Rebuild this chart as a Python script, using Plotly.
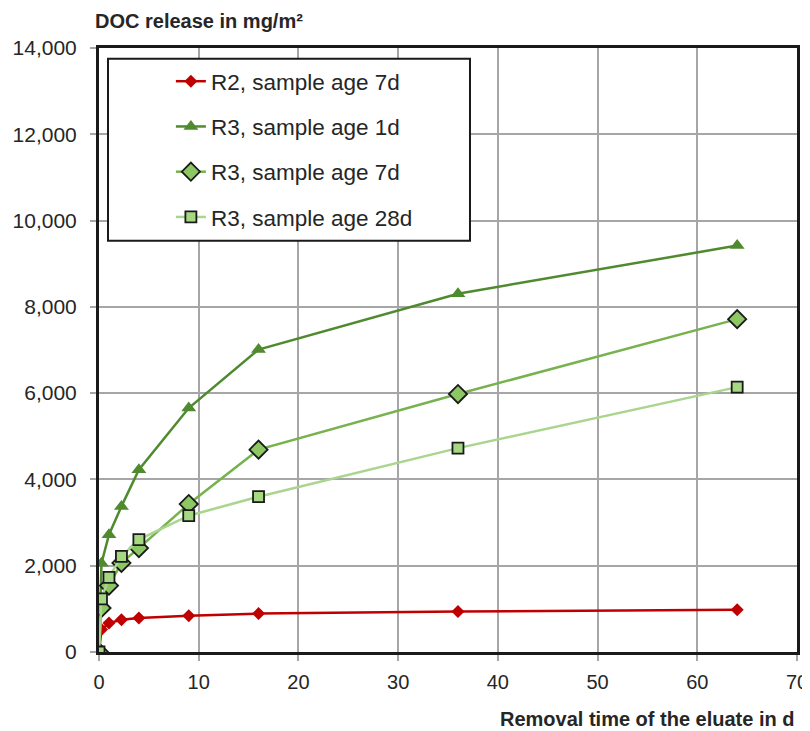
import plotly.graph_objects as go

# Data
time_d = [0, 0.25, 1, 2.25, 4, 9, 16, 36, 64]
r2_age7 = [0, 520, 672, 749, 788, 841, 890, 940, 980]
r3_age1 = [0, 2060, 2720, 3375, 4225, 5655, 7010, 8305, 9420]
r3_age7 = [0, 1020, 1540, 2065, 2410, 3430, 4690, 5980, 7715]
r3_age28 = [0, 1230, 1730, 2215, 2605, 3160, 3600, 4725, 6140]

names = ["R2, sample age 7d", "R3, sample age 1d", "R3, sample age 7d", "R3, sample age 28d"]
y_ticks = [0, 2000, 4000, 6000, 8000, 10000, 12000, 14000]
x_ticks = [0, 10, 20, 30, 40, 50, 60, 70]

FONT = "Liberation Sans, Arial, sans-serif"

fig = go.Figure()
fig.add_trace(go.Scatter(
    x=time_d, y=r2_age7, name=names[0], mode="lines+markers", legendgroup="a",
    line=dict(color="#C00000", width=2.5),
    marker=dict(symbol="diamond", size=10, color="#C00000")))
fig.add_trace(go.Scatter(
    x=time_d, y=r3_age1, name=names[1], mode="lines+markers", legendgroup="b",
    line=dict(color="#4F8A2F", width=2.5),
    marker=dict(symbol="triangle-up", size=13, color="#4F8A2F")))
fig.add_trace(go.Scatter(
    x=time_d, y=r3_age7, name=names[2], mode="lines+markers", legendgroup="c",
    line=dict(color="#77B24F", width=2.5),
    marker=dict(symbol="diamond", size=14, color="#8CC764",
                line=dict(color="#1a1a1a", width=1.8))))
fig.add_trace(go.Scatter(
    x=time_d, y=r3_age28, name=names[3], mode="lines+markers", legendgroup="d",
    line=dict(color="#A9D58E", width=2.5),
    marker=dict(symbol="square", size=11, color="#A6D884",
                line=dict(color="#1a1a1a", width=1.8))))

fig.update_layout(
    width=802, height=723,
    margin=dict(l=91, r=13, t=40, b=79, autoexpand=False),
    paper_bgcolor="white", plot_bgcolor="white",
    font=dict(family=FONT, size=20, color="#262626"),
    showlegend=True,
    legend=dict(
        x=0.103, y=0.98, xanchor="left", yanchor="top",
        bgcolor="rgba(0,0,0,0)", borderwidth=0,
        font=dict(family=FONT, size=22.5, color="#262626"),
        tracegroupgap=13,
    ),
    shapes=[dict(
        type="rect", xref="paper", yref="paper",
        x0=0.0129, x1=0.5315, y0=0.681, y1=0.982,
        fillcolor="white", line=dict(color="#1a1a1a", width=2), layer="above")],
    annotations=[
        dict(text="<b>DOC release in mg/m²</b>", xref="paper", yref="paper",
             x=0, y=1.0, xanchor="left", yanchor="bottom", yshift=14, xshift=-6,
             showarrow=False, font=dict(family=FONT, size=20, color="#262626")),
        dict(text="<b>Removal time of the eluate in d</b>", xref="paper", yref="paper",
             x=1.0, y=0, xanchor="right", yanchor="top", yshift=-54,
             showarrow=False, font=dict(family=FONT, size=20, color="#262626")),
    ],
)
fig.update_xaxes(
    range=[0, 70], tickvals=x_ticks, ticktext=[str(v) for v in x_ticks],
    showgrid=True, gridcolor="#A6A6A6", gridwidth=1.5,
    showline=True, linecolor="#1a1a1a", linewidth=3, mirror=True,
    ticks="outside", ticklen=6, tickcolor="#A6A6A6", tickwidth=1.5,
    ticklabelstandoff=4, automargin=False,
    zeroline=False, tickfont=dict(size=20, color="#262626"))
fig.update_yaxes(
    range=[0, 14000], tickvals=y_ticks, ticktext=[f"{v:,}" for v in y_ticks],
    showgrid=True, gridcolor="#A6A6A6", gridwidth=1.5,
    showline=True, linecolor="#1a1a1a", linewidth=3, mirror=True,
    ticks="outside", ticklen=6, tickcolor="#A6A6A6", tickwidth=1.5,
    ticklabelstandoff=9, automargin=False,
    zeroline=False, tickfont=dict(size=21, color="#262626"))

fig.write_html("out.html")
